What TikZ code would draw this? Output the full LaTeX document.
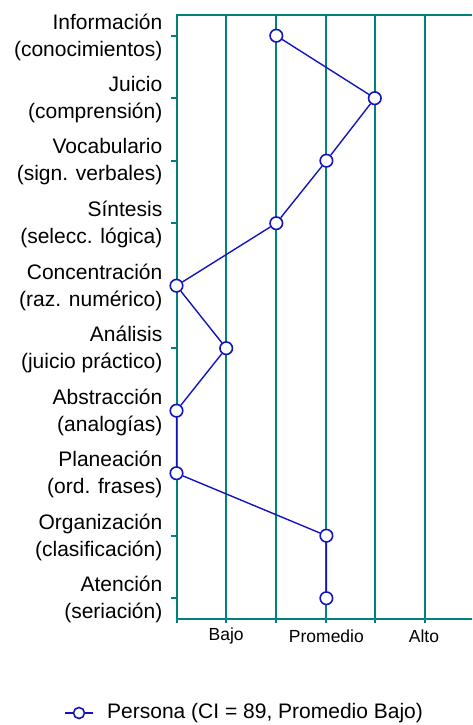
\documentclass[tikz,border=0pt]{standalone}
\usepackage{fontspec}
\setmainfont{Liberation Sans}
\usetikzlibrary{positioning}
\definecolor{gridteal}{RGB}{0, 128, 128}
\definecolor{seriesblue}{RGB}{20, 20, 190}

\tikzset{
    gridline/.style    = {gridteal, line width=2pt},
    series/.style      = {seriesblue, line width=1.4pt},
    point/.style       = {circle, draw=seriesblue, fill=white, line width=1.6pt, minimum size=12.5pt, inner sep=0pt},
    axislabel/.style   = {anchor=east, align=right, inner sep=0pt, font=\fontsize{21}{27}\selectfont},
    scalelabel/.style  = {anchor=center, inner sep=0pt, font=\fontsize{17.5}{20}\selectfont},
    legendlabel/.style = {anchor=west, inner sep=0pt, font=\fontsize{21}{25}\selectfont},
}

\begin{document}
\begin{tikzpicture}[x=1pt, y=-1pt]
    \useasboundingbox (0, 0) rectangle (472, 725);
    % frame and grid
    \draw[gridline] (472.0,  15.0) -- (176.5,  15.0) -- (176.5, 623.0);
    \draw[gridline] (175.5, 619.0) -- (472.0, 619.0);
    \draw[gridline] (226.2,  15.0) -- (226.2, 623.0);
    \draw[gridline] (276.3,  15.0) -- (276.3, 623.0);
    \draw[gridline] (326.4,  15.0) -- (326.4, 623.0);
    \draw[gridline] (374.8,  15.0) -- (374.8, 623.0);
    \draw[gridline] (425.0,  15.0) -- (425.0, 623.0);
    % ticks on the left axis
    \foreach \ty in {35.7, 98.2, 160.7, 223.2, 285.7, 348.2, 410.7, 473.2, 535.7, 598.2}
        \draw[gridline] (171.0, \ty) -- (176.5, \ty);

    % labels
    \node[axislabel] (lblinfo)  at (162.5,  37.0) {Información\\(conocimientos)};
    \node[axislabel] (lbljuic)  at (162.5,  99.5) {Juicio\\(comprensión)};
    \node[axislabel] (lblvoca)  at (162.5, 162.0) {Vocabulario\\(sign. verbales)};
    \node[axislabel] (lblsint)  at (162.5, 224.5) {Síntesis\\(selecc. lógica)};
    \node[axislabel] (lblconc)  at (162.5, 287.0) {Concentración\\(raz. numérico)};
    \node[axislabel] (lblanal)  at (162.5, 349.5) {Análisis\\(juicio práctico)};
    \node[axislabel] (lblabst)  at (162.5, 412.0) {Abstracción\\(analogías)};
    \node[axislabel] (lblplan)  at (162.5, 474.5) {Planeación\\(ord. frases)};
    \node[axislabel] (lblorga)  at (162.5, 537.0) {Organización\\(clasificación)};
    \node[axislabel] (lblaten)  at (162.5, 599.5) {Atención\\(seriación)};

    \node[scalelabel] (lblbajo) at (226.2, 636.0) {Bajo};
    \node[scalelabel] (lblprom) at (326.4, 636.0) {Promedio};
    \node[scalelabel] (lblalto) at (424.0, 636.0) {Alto};

    % series
    \node[point] (pinfo) at (276.3,  35.7) {};
    \node[point] (pjuic) at (374.8,  98.2) {};
    \node[point] (pvoca) at (326.4, 160.7) {};
    \node[point] (psint) at (276.3, 223.2) {};
    \node[point] (pconc) at (176.5, 285.7) {};
    \node[point] (panal) at (226.2, 348.2) {};
    \node[point] (pabst) at (176.5, 410.7) {};
    \node[point] (pplan) at (176.5, 473.2) {};
    \node[point] (porga) at (326.4, 535.7) {};
    \node[point] (paten) at (326.4, 598.2) {};
    \draw[series] (pinfo) -- (pjuic) -- (pvoca) -- (psint) -- (pconc) -- (panal)
                  -- (pabst) -- (pplan) -- (porga) -- (paten);

    % legend
    \coordinate (legleft)  at ( 65.0, 713.0);
    \coordinate (legright) at ( 93.0, 713.0);
    \node[point, minimum size=11pt] (legmark) at (79.0, 713.0) {};
    \draw[series] (legleft) -- (legmark) -- (legright);
    \node[legendlabel, right=14pt of legright] (legtext) {Persona (CI = 89, Promedio Bajo)};
\end{tikzpicture}
\end{document}
